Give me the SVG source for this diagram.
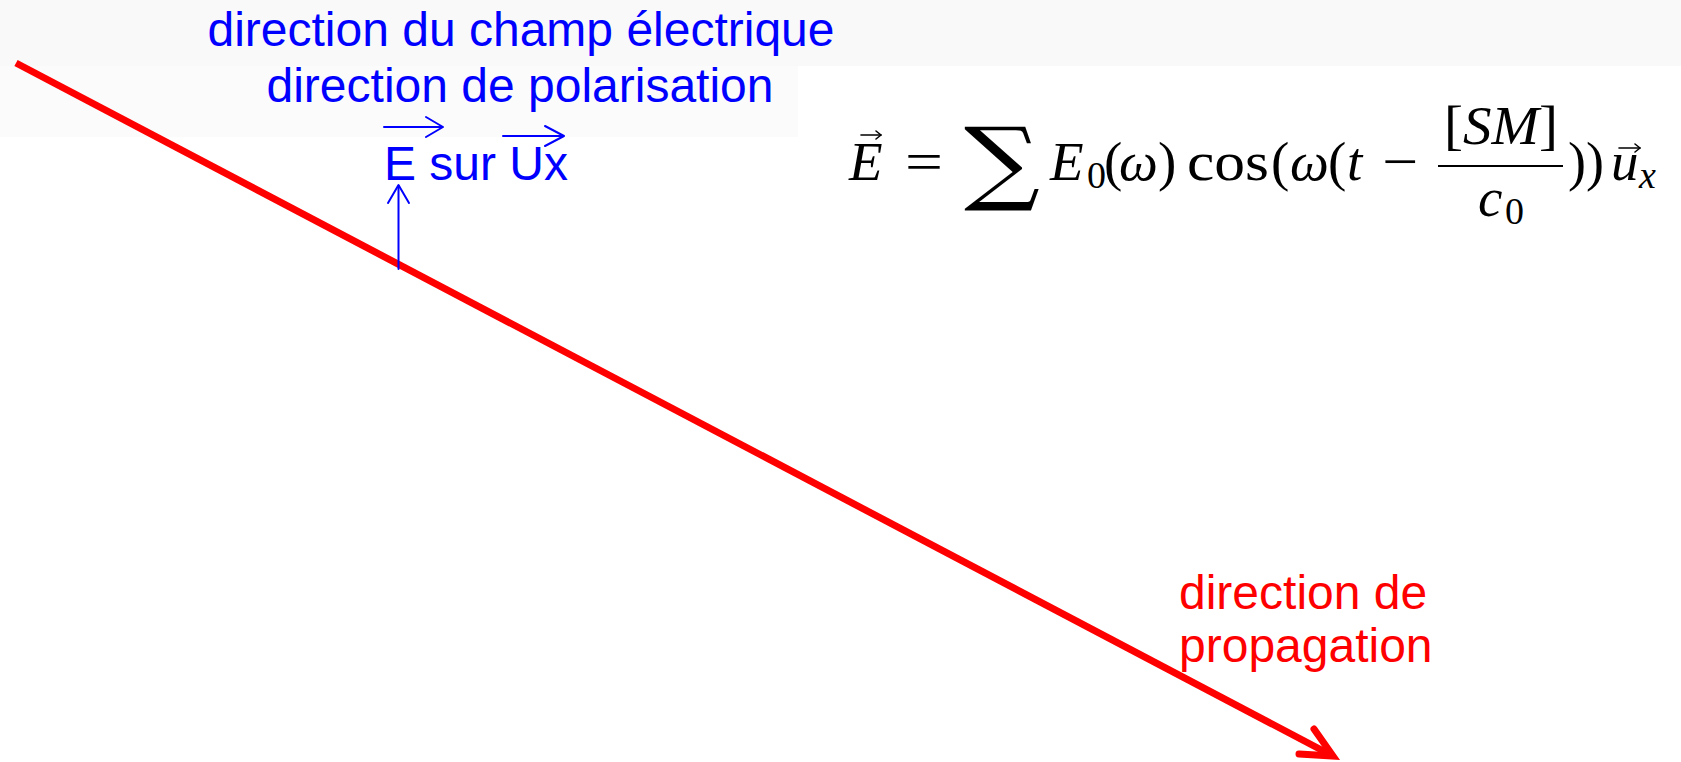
<svg xmlns="http://www.w3.org/2000/svg" width="1681" height="762" viewBox="0 0 1681 762">
<style>
.blue{font-family:"Liberation Sans",Arial,sans-serif;font-size:48px;fill:#0000ff}
.red{font-family:"Liberation Sans",Arial,sans-serif;font-size:48px;fill:#ff0000}
.m{font-family:"Liberation Serif","DejaVu Serif",serif;font-size:55px;fill:#000}
.i{font-style:italic}
.sub{font-size:38px}
.bl{stroke:#0000ff;stroke-width:2;fill:none;stroke-linecap:round;stroke-linejoin:round}
.rd{stroke:#ff0000;stroke-width:7;fill:none}
.mk{stroke:#000;stroke-width:1.6;fill:none;stroke-linecap:round;stroke-linejoin:round}
</style>
<rect width="1681" height="762" fill="#ffffff"/>
<rect x="0" y="0" width="1681" height="66" fill="#f9f9f9"/>
<rect x="0" y="66" width="798" height="71" fill="#fbfbfb"/>

<g id="connectors">
  <line class="rd" x1="16" y1="63" x2="1331" y2="755"/>
  <polyline class="rd" points="1314,729 1333,756 1299,754" stroke-linecap="round" stroke-linejoin="miter"/>
  <line class="bl" x1="398.5" y1="269" x2="398.5" y2="186" stroke-width="2.5"/>
  <polyline class="bl" points="388,203 398.5,185 409,203" stroke-width="2.5"/>
</g>

<g id="label-champ">
  <text class="blue" x="521" y="46" text-anchor="middle">direction du champ électrique</text>
  <text class="blue" x="520" y="102" text-anchor="middle">direction de polarisation</text>
</g>

<g id="label-E-sur-Ux">
  <text class="blue" x="384" y="180">E sur Ux</text>
  <line class="bl" x1="384" y1="127" x2="442" y2="127"/>
  <polyline class="bl" points="426,117 443,127 426,137"/>
  <line class="bl" x1="503" y1="136" x2="563" y2="136"/>
  <polyline class="bl" points="545,126 564,136 545,146"/>
</g>

<g id="label-propagation">
  <text class="red" x="1179" y="609">direction de</text>
  <text class="red" x="1179" y="662">propagation</text>
</g>

<g id="formula" class="m">
  <text class="i" x="849" y="180">E</text>
  <line class="mk" x1="861" y1="135" x2="881" y2="135"/>
  <polyline class="mk" points="876,131 881,135 876,139"/>
  <text x="905" y="180" textLength="38" lengthAdjust="spacingAndGlyphs">=</text>
  <text x="964" y="193" font-family="'DejaVu Serif',serif" font-size="92" textLength="76" lengthAdjust="spacingAndGlyphs">∑</text>
  <text class="i" x="1050" y="180">E</text>
  <text class="sub" x="1087" y="188">0</text>
  <text x="1104" y="180">(</text>
  <text class="i" x="1119" y="180">ω</text>
  <text x="1158" y="180">)</text>
  <text x="1187" y="180" textLength="82" lengthAdjust="spacingAndGlyphs">cos</text>
  <text x="1271" y="180">(</text>
  <text class="i" x="1290" y="180">ω</text>
  <text x="1328" y="180">(</text>
  <text class="i" x="1347" y="180">t</text>
  <text x="1382" y="180" textLength="36" lengthAdjust="spacingAndGlyphs">−</text>
  <line x1="1438" y1="166" x2="1563" y2="166" stroke="#000" stroke-width="2.2"/>
  <text x="1444" y="144" textLength="114" lengthAdjust="spacingAndGlyphs">[<tspan class="i">SM</tspan>]</text>
  <text class="i" x="1478" y="216">c</text>
  <text class="sub" x="1505" y="224">0</text>
  <text x="1568" y="180" textLength="36" lengthAdjust="spacingAndGlyphs">))</text>
  <text class="i" x="1611" y="180">u</text>
  <text class="i sub" x="1639" y="188">x</text>
  <line class="mk" x1="1619" y1="148" x2="1640" y2="148"/>
  <polyline class="mk" points="1635,144 1640,148 1635,152"/>
</g>
</svg>
